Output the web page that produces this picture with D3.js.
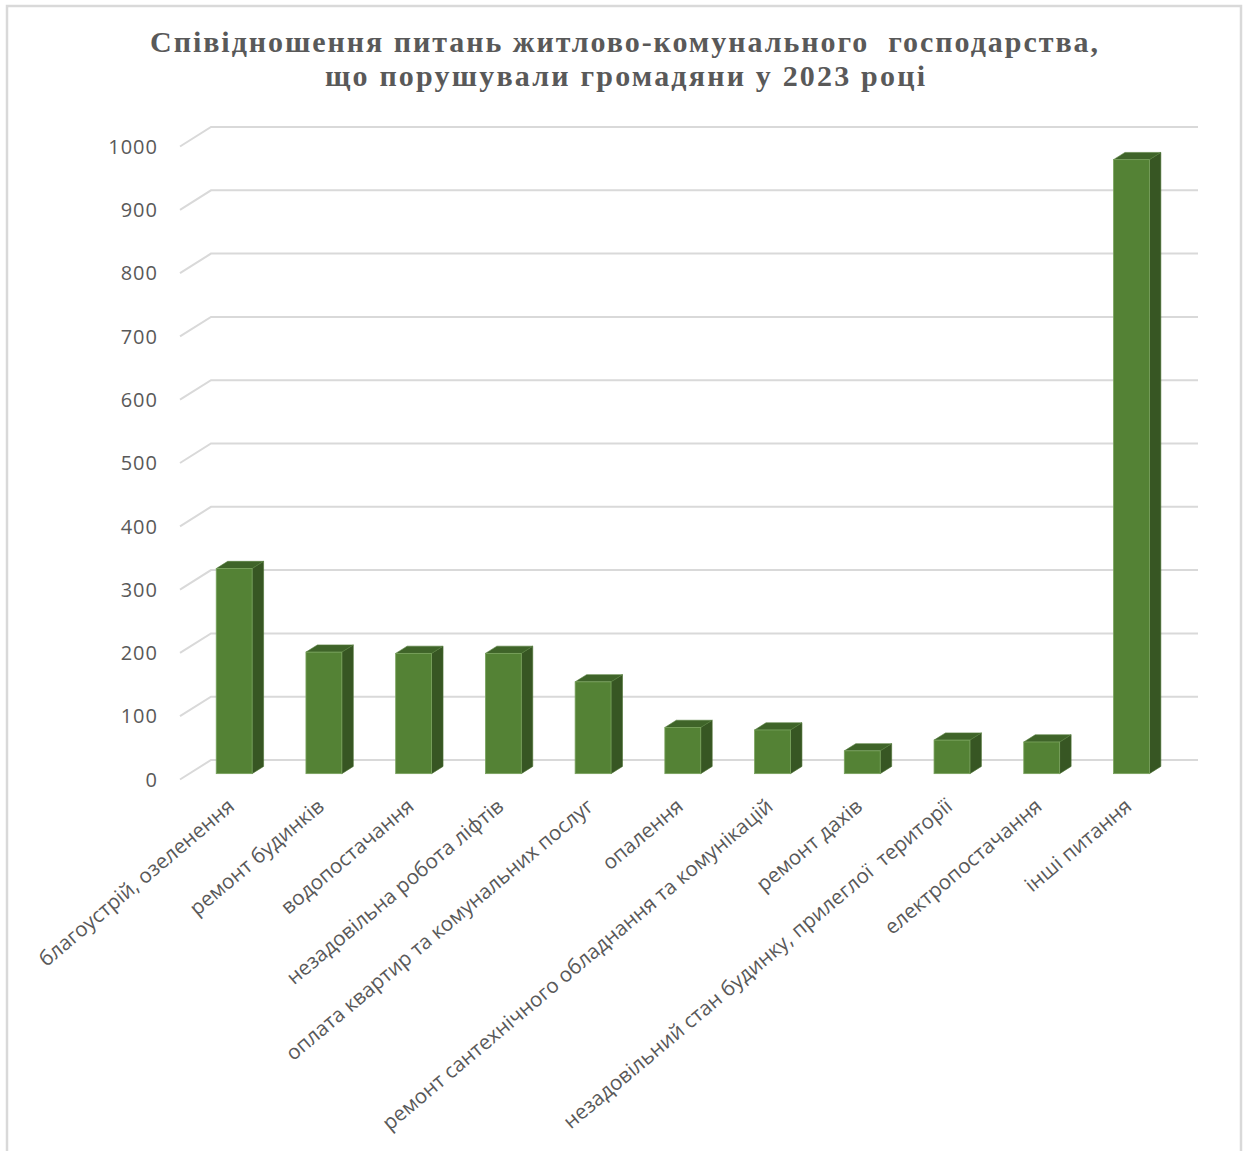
<!DOCTYPE html>
<html>
<head>
<meta charset="utf-8">
<script src="https://cdn.jsdelivr.net/npm/d3@7"></script>
<style>
  html, body { margin: 0; padding: 0; background: #fff; }
  svg { display: block; }
</style>
</head>
<body>
<svg id="chart" width="1248" height="1151"></svg>
<script>
// ---- data ----
const titleLines = [
  "Співідношення питань житлово-комунального  господарства,",
  "що порушували громадяни у 2023 році"
];
const categories = [
  "благоустрій, озеленення",
  "ремонт будинків",
  "водопостачання",
  "незадовільна робота ліфтів",
  "оплата квартир та комунальних послуг",
  "опалення",
  "ремонт сантехнічного обладнання та комунікацій",
  "ремонт дахів",
  "незадовільний стан будинку, прилеглої  території",
  "електропостачання",
  "інші питання"
];
const values = [324, 192, 190, 190, 145, 73, 69, 36, 53, 50, 970];
const yTicks = [0, 100, 200, 300, 400, 500, 600, 700, 800, 900, 1000];

// ---- layout ----
const svg = d3.select("#chart");
const DX = 31, DY = -19.5;           // full depth vector of the plot box
const frontLeft = 180, frontRight = 1167;
const backRight = frontRight + DX;
const y = d3.scaleLinear().domain([0, 1000]).range([760, 127]); // back wall
const x = d3.scaleBand().domain(categories).range([frontLeft, frontRight])
  .paddingInner(0.6).paddingOuter(0.3);
const dFront = 0.3, dBack = 0.67;     // bar depth placement (fraction of box depth)

const textColor = "#595959";
const gridColor = "#d9d9d9";

// outer border
svg.append("rect").attr("x", 7).attr("y", 6).attr("width", 1234).attr("height", 1150)
  .attr("fill", "#fff").attr("stroke", gridColor).attr("stroke-width", 2.5);

// title
const title = svg.append("g").attr("font-family", "'Liberation Serif', 'Times New Roman', serif")
  .attr("font-weight", "bold").attr("font-size", 30).attr("fill", textColor)
  .attr("text-anchor", "middle");
title.append("text").attr("x", 624).attr("y", 52).attr("xml:space", "preserve")
  .style("white-space", "pre").attr("textLength", 948).attr("lengthAdjust", "spacing")
  .text(titleLines[0]);
title.append("text").attr("x", 625).attr("y", 86)
  .attr("textLength", 600).attr("lengthAdjust", "spacing")
  .text(titleLines[1]);

// gridlines (back wall + left side wall)
const grid = svg.append("g").attr("fill", "none").attr("stroke", gridColor).attr("stroke-width", 2);
yTicks.forEach(v => {
  const yb = y(v);
  grid.append("path").attr("d",
    `M${frontLeft},${yb - DY} L${frontLeft + DX},${yb} L${backRight},${yb}`);
});

// y axis labels
svg.append("g").attr("font-family", "'Open Sans', sans-serif").attr("font-size", 20)
  .attr("fill", textColor).attr("text-anchor", "end")
  .selectAll("text").data(yTicks).join("text")
  .attr("x", 158).attr("y", d => y(d) - DY).attr("dy", "0.36em")
  .attr("letter-spacing", 1)
  .text(d => d);

// bars
const bars = svg.append("g");
categories.forEach((c, i) => {
  const v = values[i];
  const fx = x(c) + dFront * DX, fy0 = 760 - DY + dFront * DY;
  const bw = x.bandwidth();
  const ftop = y(v) - DY + dFront * DY;
  const ox = (dBack - dFront) * DX, oy = (dBack - dFront) * DY;
  const g = bars.append("g");
  g.append("path").attr("d",
    `M${fx + bw},${fy0} L${fx + bw + ox},${fy0 + oy} L${fx + bw + ox},${ftop + oy} L${fx + bw},${ftop} Z`)
    .attr("fill", "#375623").attr("stroke", "#4a7030").attr("stroke-width", 0.6);
  g.append("path").attr("d",
    `M${fx},${ftop} L${fx + ox},${ftop + oy} L${fx + bw + ox},${ftop + oy} L${fx + bw},${ftop} Z`)
    .attr("fill", "#3f6429").attr("stroke", "#557d3c").attr("stroke-width", 0.6);
  g.append("rect").attr("x", fx).attr("y", ftop).attr("width", bw).attr("height", fy0 - ftop)
    .attr("fill", "#548235").attr("stroke", "#7aa35e").attr("stroke-width", 0.8);
});

// x axis labels (rotated)
const xl = svg.append("g").attr("font-family", "'Open Sans', sans-serif")
  .attr("fill", textColor).attr("text-anchor", "end");
const labels = xl.selectAll("text").data(categories).join("text")
  .attr("xml:space", "preserve").style("white-space", "pre")
  .attr("font-size", 16)
  .attr("dy", "0.35em")
  .attr("transform", d => `translate(${x(d) + dFront * DX + x.bandwidth() / 2 - 3},803) rotate(-40)`)
  .text(d => d);
const longest = labels.filter((d, i) => i === 8).node().getComputedTextLength();
const fs = 16 * 500 / longest;
labels.attr("font-size", fs);
</script>
</body>
</html>
